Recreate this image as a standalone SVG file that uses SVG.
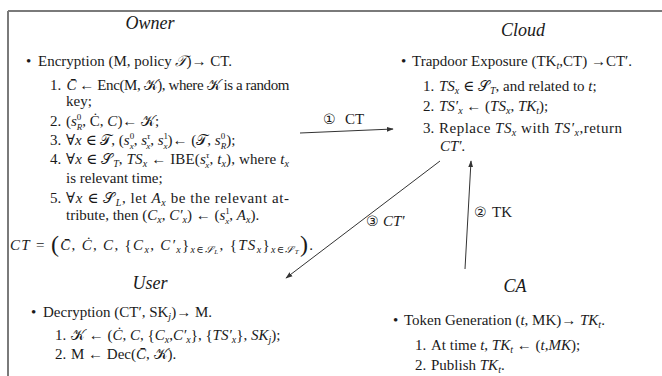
<svg xmlns="http://www.w3.org/2000/svg" width="662" height="376" viewBox="0 0 662 376">
<defs>
<style>
.t{font-family:"Liberation Serif","DejaVu Serif",serif;font-size:15px;fill:#1a1a1a}
.i{font-style:italic}
.s{font-size:10px}
.p{font-size:9px}
.h{font-family:"Liberation Serif","DejaVu Serif",serif;font-size:18px;font-style:italic;fill:#1a1a1a;text-anchor:middle}
.c{font-family:"DejaVu Sans",sans-serif;font-size:14px;fill:#1a1a1a}
.ln{stroke:#333;stroke-width:1;fill:none}
</style>
<marker id="ah" viewBox="0 0 10 10" refX="9" refY="5" markerWidth="7" markerHeight="7" orient="auto" markerUnits="userSpaceOnUse">
<path d="M0,1.5 L10,5 L0,8.5 Z" fill="#333"/>
</marker>
</defs>
<rect width="662" height="376" fill="#fff"/>
<g id="frame">
<line x1="8" y1="11" x2="662" y2="11" stroke="#7a7a7a" stroke-width="2"/>
<line x1="8" y1="11" x2="8" y2="376" stroke="#7a7a7a" stroke-width="2"/>
</g>

<g id="owner">
<text class="h" x="150" y="29">Owner</text>
<text class="t" x="26" y="66">•</text>
<text class="t" x="38" y="66">Encryption (M, policy <tspan class="i">𝒯</tspan>)→ CT.</text>
<text class="t" x="50" y="90">1.</text>
<text class="t" x="66" y="90" textLength="223" lengthAdjust="spacing"><tspan class="i">C̄</tspan> ← Enc(M, 𝒦), where 𝒦 is a random</text>
<text class="t" x="66" y="106">key;</text>
<text class="t" x="50" y="126">2.</text>
<text class="t" x="66" y="126">(<tspan class="i">s</tspan><tspan class="p" dy="-6">0</tspan><tspan class="p i" dx="-4.5" dy="10">R</tspan><tspan dy="-4">, Ċ, </tspan><tspan class="i">C</tspan>)← 𝒦;</text>
<text class="t" x="50" y="145">3.</text>
<text class="t" x="66" y="145">∀<tspan class="i">x</tspan> ∈ 𝒯, (<tspan class="i">s</tspan><tspan class="p" dy="-6">0</tspan><tspan class="p i" dx="-4.5" dy="10">x</tspan><tspan dy="-4">, </tspan><tspan class="i">s</tspan><tspan class="p i" dy="-6">τ</tspan><tspan class="p i" dx="-4" dy="10">x</tspan><tspan dy="-4">, </tspan><tspan class="i">s</tspan><tspan class="p" dy="-6">1</tspan><tspan class="p i" dx="-4.5" dy="10">x</tspan><tspan dy="-4">)← (𝒯, </tspan><tspan class="i">s</tspan><tspan class="p" dy="-6">0</tspan><tspan class="p i" dx="-4.5" dy="10">R</tspan><tspan dy="-4">);</tspan></text>
<text class="t" x="50" y="164">4.</text>
<text class="t" x="66" y="164" textLength="223" lengthAdjust="spacing">∀<tspan class="i">x</tspan> ∈ 𝒮<tspan class="s i" dy="3">T</tspan><tspan dy="-3">, </tspan><tspan class="i">TS</tspan><tspan class="s i" dy="3">x</tspan><tspan dy="-3"> ← IBE(</tspan><tspan class="i">s</tspan><tspan class="p i" dy="-6">τ</tspan><tspan class="p i" dx="-4" dy="10">x</tspan><tspan dy="-4">, </tspan><tspan class="i">t</tspan><tspan class="s i" dy="3">x</tspan><tspan dy="-3">), where </tspan><tspan class="i">t</tspan><tspan class="s i" dy="3">x</tspan></text>
<text class="t" x="66" y="183">is relevant time;</text>
<text class="t" x="50" y="203">5.</text>
<text class="t" x="66" y="203" textLength="223" lengthAdjust="spacing">∀<tspan class="i">x</tspan> ∈ 𝒮<tspan class="s i" dy="3">L</tspan><tspan dy="-3">, let </tspan><tspan class="i">A</tspan><tspan class="s i" dy="3">x</tspan><tspan dy="-3"> be the relevant at-</tspan></text>
<text class="t" x="66" y="220">tribute, then (<tspan class="i">C</tspan><tspan class="s i" dy="3">x</tspan><tspan dy="-3">, </tspan><tspan class="i">C′</tspan><tspan class="s i" dy="3">x</tspan><tspan dy="-3">) ← (</tspan><tspan class="i">s</tspan><tspan class="p" dy="-6">1</tspan><tspan class="p i" dx="-4.5" dy="10">x</tspan><tspan dy="-4">, </tspan><tspan class="i">A</tspan><tspan class="s i" dy="3">x</tspan><tspan dy="-3">).</tspan></text>
<text class="t" x="10" y="250" font-size="16" textLength="303" lengthAdjust="spacing"><tspan class="i">CT</tspan> = <tspan font-size="24" dy="2">(</tspan><tspan class="i" dy="-2">C̄</tspan>, <tspan class="i">Ċ</tspan>, <tspan class="i">C</tspan>, {<tspan class="i">C</tspan><tspan class="s i" dy="3">x</tspan><tspan dy="-3">, </tspan><tspan class="i">C′</tspan><tspan class="s i" dy="3">x</tspan><tspan dy="-3">}</tspan><tspan class="s i" dy="3">x∈𝒮</tspan><tspan font-size="7" class="i" dy="1">L</tspan><tspan dy="-4">, {</tspan><tspan class="i">TS</tspan><tspan class="s i" dy="3">x</tspan><tspan dy="-3">}</tspan><tspan class="s i" dy="3">x∈𝒮</tspan><tspan font-size="7" class="i" dy="1">T</tspan><tspan font-size="24" dy="-2">)</tspan><tspan dy="-2">.</tspan></text>
</g>

<g id="user">
<text class="h" x="150" y="289">User</text>
<text class="t" x="31" y="317">•</text>
<text class="t" x="43" y="317">Decryption (CT′, SK<tspan class="s i" dy="3">j</tspan><tspan dy="-3">)→ M.</tspan></text>
<text class="t" x="55" y="340">1.</text>
<text class="t" x="71" y="340">𝒦 ← (<tspan class="i">Ċ</tspan>, <tspan class="i">C</tspan>, {<tspan class="i">C</tspan><tspan class="s i" dy="3">x</tspan><tspan dy="-3">,</tspan><tspan class="i">C′</tspan><tspan class="s i" dy="3">x</tspan><tspan dy="-3">}, {</tspan><tspan class="i">TS′</tspan><tspan class="s i" dy="3">x</tspan><tspan dy="-3">}, </tspan><tspan class="i">SK</tspan><tspan class="s i" dy="3">j</tspan><tspan dy="-3">);</tspan></text>
<text class="t" x="55" y="359">2.</text>
<text class="t" x="71" y="359">M ← Dec(<tspan class="i">C̄</tspan>, 𝒦).</text>
</g>

<g id="cloud">
<text class="h" x="523" y="36">Cloud</text>
<text class="t" x="401" y="66">•</text>
<text class="t" x="412" y="66">Trapdoor Exposure (TK<tspan class="s i" dy="3">t</tspan><tspan dy="-3">,CT) →CT′.</tspan></text>
<text class="t" x="423" y="91">1.</text>
<text class="t" x="439" y="91"><tspan class="i">TS</tspan><tspan class="s i" dy="3">x</tspan><tspan dy="-3"> ∈ 𝒮</tspan><tspan class="s i" dy="3">T</tspan><tspan dy="-3">, and related to </tspan><tspan class="i">t</tspan>;</text>
<text class="t" x="423" y="111">2.</text>
<text class="t" x="439" y="111"><tspan class="i">TS′</tspan><tspan class="s i" dy="3">x</tspan><tspan dy="-3"> ← (</tspan><tspan class="i">TS</tspan><tspan class="s i" dy="3">x</tspan><tspan dy="-3">, </tspan><tspan class="i">TK</tspan><tspan class="s i" dy="3">t</tspan><tspan dy="-3">);</tspan></text>
<text class="t" x="423" y="133">3.</text>
<text class="t" x="439" y="133" textLength="183" lengthAdjust="spacing">Replace <tspan class="i">TS</tspan><tspan class="s i" dy="3">x</tspan><tspan dy="-3"> with </tspan><tspan class="i">TS′</tspan><tspan class="s i" dy="3">x</tspan><tspan dy="-3">,return</tspan></text>
<text class="t i" x="440" y="151">CT′.</text>
</g>

<g id="ca">
<text class="h" x="515" y="292">CA</text>
<text class="t" x="393" y="325">•</text>
<text class="t" x="404" y="325">Token Generation (<tspan class="i">t</tspan>, MK)→ <tspan class="i">TK</tspan><tspan class="s i" dy="3">t</tspan><tspan dy="-3">.</tspan></text>
<text class="t" x="415" y="350">1.</text>
<text class="t" x="431" y="350">At time <tspan class="i">t</tspan>, <tspan class="i">TK</tspan><tspan class="s i" dy="3">t</tspan><tspan dy="-3"> ← (</tspan><tspan class="i">t</tspan>,<tspan class="i">MK</tspan>);</text>
<text class="t" x="415" y="370">2.</text>
<text class="t" x="431" y="370">Publish <tspan class="i">TK</tspan><tspan class="s i" dy="3">t</tspan><tspan dy="-3">.</tspan></text>
</g>

<g id="connectors">
<line class="ln" x1="300" y1="133" x2="393" y2="129" marker-end="url(#ah)"/>
<text class="c" x="323" y="124">①</text>
<text class="t" x="345" y="124">CT</text>
<line class="ln" x1="440" y1="161" x2="286" y2="278" marker-end="url(#ah)"/>
<text class="c" x="366" y="226">③</text>
<text class="t i" x="383" y="226">CT′</text>
<line class="ln" x1="465" y1="269" x2="471" y2="161" marker-end="url(#ah)"/>
<text class="c" x="474" y="217">②</text>
<text class="t" x="492" y="217">TK</text>
</g>
</svg>
